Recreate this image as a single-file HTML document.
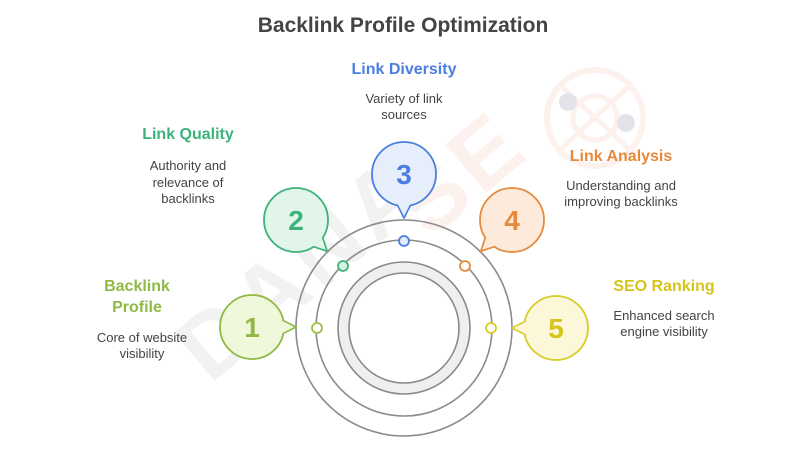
<!DOCTYPE html>
<html><head><meta charset="utf-8"><style>
html,body{margin:0;padding:0;background:#fff;}
svg{display:block;}
text{font-family:"Liberation Sans",sans-serif;}
</style></head><body>
<svg width="800" height="450" viewBox="0 0 800 450" xmlns="http://www.w3.org/2000/svg">
<!-- watermark -->
<g opacity="0.09">
 <text x="0" y="0" transform="translate(210,385) rotate(-40)" font-size="92" font-weight="bold" fill="#777" letter-spacing="6">DANA</text>
 <text x="0" y="0" transform="translate(430,240) rotate(-40)" font-size="92" font-weight="bold" fill="#f07050" letter-spacing="6">SE</text>
 <circle cx="595" cy="118" r="48" fill="none" stroke="#f07050" stroke-width="6"/>
 <circle cx="595" cy="118" r="22" fill="none" stroke="#f07050" stroke-width="5"/>
 <line x1="560" y1="85" x2="630" y2="150" stroke="#f07050" stroke-width="5"/>
 <line x1="630" y1="85" x2="560" y2="150" stroke="#f07050" stroke-width="5"/>
</g>
<circle cx="568" cy="102" r="9" fill="#e2e4e9"/>
<circle cx="626" cy="123" r="9" fill="#e2e4e9"/>

<text x="403" y="32" text-anchor="middle" font-size="21" font-weight="bold" fill="#444">Backlink Profile Optimization</text>

<!-- rings -->
<circle cx="404" cy="328" r="108" fill="none" stroke="#8a8a8a" stroke-width="1.6"/>
<circle cx="404" cy="328" r="88" fill="none" stroke="#8a8a8a" stroke-width="1.6"/>
<circle cx="404" cy="328" r="60.5" fill="none" stroke="#efefef" stroke-width="11"/>
<circle cx="404" cy="328" r="66" fill="none" stroke="#8a8a8a" stroke-width="1.6"/>
<circle cx="404" cy="328" r="55" fill="none" stroke="#8a8a8a" stroke-width="1.6"/>

<!-- dots -->
<circle cx="317" cy="328" r="5" fill="#fff" stroke="#9cc043" stroke-width="1.8"/>
<circle cx="343" cy="266" r="5" fill="#d8f1e3" stroke="#3bb37a" stroke-width="1.8"/>
<circle cx="404" cy="241" r="5" fill="#e3ebfb" stroke="#4a7fe0" stroke-width="1.8"/>
<circle cx="465" cy="266" r="5" fill="#fff" stroke="#e58a3c" stroke-width="1.8"/>
<circle cx="491" cy="328" r="5" fill="#fff" stroke="#d6cc2a" stroke-width="1.8"/>

<!-- bubbles -->
<g transform="translate(252,327)">
 <g transform="rotate(0)"><polygon points="26,-9 44,0 26,9" fill="#f0f8dc" stroke="#8fba45" stroke-width="1.8" stroke-linejoin="round"/></g>
 <circle r="32" fill="#f0f8dc" stroke="#8fba45" stroke-width="1.8"/>
 <g transform="rotate(0)"><polygon points="28,-7.2 42,0 28,7.2" fill="#f0f8dc"/></g>
 <text y="10" text-anchor="middle" font-size="28" font-weight="bold" fill="#8fba45">1</text>
</g>
<g transform="translate(296,220)">
 <g transform="rotate(45)"><polygon points="26,-9 44,0 26,9" fill="#e1f5ea" stroke="#3bb37a" stroke-width="1.8" stroke-linejoin="round"/></g>
 <circle r="32" fill="#e1f5ea" stroke="#3bb37a" stroke-width="1.8"/>
 <g transform="rotate(45)"><polygon points="28,-7.2 42,0 28,7.2" fill="#e1f5ea"/></g>
 <text y="10" text-anchor="middle" font-size="28" font-weight="bold" fill="#3bb37a">2</text>
</g>
<g transform="translate(404,174)">
 <g transform="rotate(90)"><polygon points="26,-9 44,0 26,9" fill="#e6eefc" stroke="#4a7fe0" stroke-width="1.8" stroke-linejoin="round"/></g>
 <circle r="32" fill="#e6eefc" stroke="#4a7fe0" stroke-width="1.8"/>
 <g transform="rotate(90)"><polygon points="28,-7.2 42,0 28,7.2" fill="#e6eefc"/></g>
 <text y="10" text-anchor="middle" font-size="28" font-weight="bold" fill="#4a7fe0">3</text>
</g>
<g transform="translate(512,220)">
 <g transform="rotate(135)"><polygon points="26,-9 44,0 26,9" fill="#fdeadb" stroke="#e58a3c" stroke-width="1.8" stroke-linejoin="round"/></g>
 <circle r="32" fill="#fdeadb" stroke="#e58a3c" stroke-width="1.8"/>
 <g transform="rotate(135)"><polygon points="28,-7.2 42,0 28,7.2" fill="#fdeadb"/></g>
 <text y="10" text-anchor="middle" font-size="28" font-weight="bold" fill="#e58a3c">4</text>
</g>
<g transform="translate(556,328)">
 <g transform="rotate(180)"><polygon points="26,-9 44,0 26,9" fill="#fcf7d8" stroke="#d6cc2a" stroke-width="1.8" stroke-linejoin="round"/></g>
 <circle r="32" fill="#fcf7d8" stroke="#d6cc2a" stroke-width="1.8"/>
 <g transform="rotate(180)"><polygon points="28,-7.2 42,0 28,7.2" fill="#fcf7d8"/></g>
 <text y="10" text-anchor="middle" font-size="28" font-weight="bold" fill="#d6c41a">5</text>
</g>

<!-- labels -->
<g font-size="13" fill="#444" text-anchor="middle">
 <text x="404" y="74" font-size="16" font-weight="bold" fill="#4a7fe0">Link Diversity</text>
 <text x="404" y="103">Variety of link</text>
 <text x="404" y="119">sources</text>

 <text x="188" y="139" font-size="16" font-weight="bold" fill="#3bb37a">Link Quality</text>
 <text x="188" y="170">Authority and</text>
 <text x="188" y="187">relevance of</text>
 <text x="188" y="203">backlinks</text>

 <text x="621" y="161" font-size="16" font-weight="bold" fill="#e58a3c">Link Analysis</text>
 <text x="621" y="190">Understanding and</text>
 <text x="621" y="206">improving backlinks</text>

 <text x="664" y="291" font-size="16" font-weight="bold" fill="#d6c41a">SEO Ranking</text>
 <text x="664" y="320">Enhanced search</text>
 <text x="664" y="336">engine visibility</text>

 <text x="137" y="291" font-size="16" font-weight="bold" fill="#8fba45">Backlink</text>
 <text x="137" y="312" font-size="16" font-weight="bold" fill="#8fba45">Profile</text>
 <text x="142" y="342">Core of website</text>
 <text x="142" y="358">visibility</text>
</g>
</svg>
</body></html>
